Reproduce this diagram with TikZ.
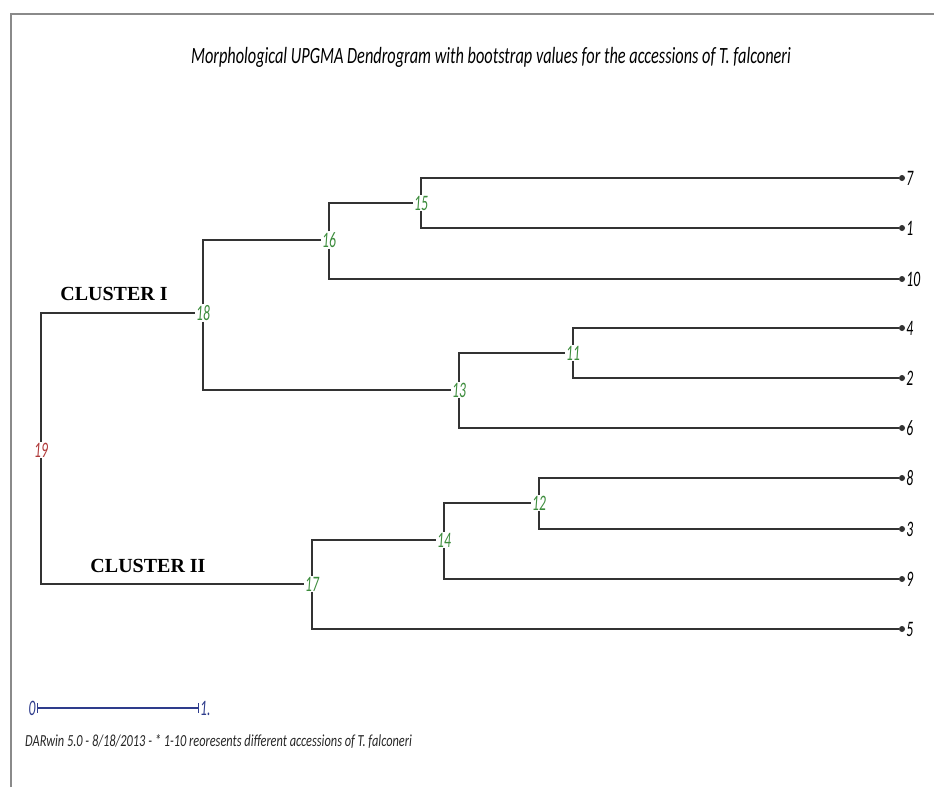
\documentclass[tikz,border=0pt]{standalone}
\usepackage{graphicx}
\usepackage{fontspec}
\setmainfont{Carlito}
\newfontfamily\clusterfont{Liberation Serif}
\definecolor{branch}{HTML}{333333}
\definecolor{framegray}{HTML}{8A8A8A}
\definecolor{nodegreen}{HTML}{3C8C3C}
\definecolor{rootred}{HTML}{B03A3A}
\definecolor{scaleblue}{HTML}{2E3C8C}
\newcommand{\numtxt}[1]{\scalebox{0.8}[1.3]{\fontsize{17}{17}\selectfont\itshape #1}}
\begin{document}
\begin{tikzpicture}[x=1pt,y=-1pt,
  br/.style={draw=branch,line width=1.5pt},
  inode/.style={fill=white,inner sep=1pt,text=nodegreen},
  leaf/.style={circle,fill=branch,inner sep=0pt,minimum size=6pt,
     label={[text=black,inner sep=1pt]right:\numtxt{#1}}},
  clus/.style={font=\clusterfont\fontsize{20}{20}\selectfont\bfseries}]
\useasboundingbox (0,0) rectangle (934,787);
% frame
\draw[framegray,line width=2.4pt] (11,787) -- (11,14) -- (934,14);
% title
\node (title) at (491,57) {\scalebox{0.96}[1.37]{\fontsize{17}{17}\selectfont\itshape Morphological UPGMA Dendrogram with bootstrap values for the accessions of T.~falconeri}};
% leaves
\node[leaf=7]  (l7)  at (902,178) {};
\node[leaf=1]  (l1)  at (902,228) {};
\node[leaf=10] (l10) at (902,279) {};
\node[leaf=4]  (l4)  at (902,328) {};
\node[leaf=2]  (l2)  at (902,378) {};
\node[leaf=6]  (l6)  at (902,428) {};
\node[leaf=8]  (l8)  at (902,478) {};
\node[leaf=3]  (l3)  at (902,529) {};
\node[leaf=9]  (l9)  at (902,579) {};
\node[leaf=5]  (l5)  at (902,629) {};
% internal nodes
\node[inode] (n15) at (421,203) {\numtxt{15}};
\node[inode] (n16) at (329,240) {\numtxt{16}};
\node[inode] (n11) at (573,353) {\numtxt{11}};
\node[inode] (n13) at (459,390) {\numtxt{13}};
\node[inode] (n18) at (203,313) {\numtxt{18}};
\node[inode] (n12) at (539,503) {\numtxt{12}};
\node[inode] (n14) at (444,540) {\numtxt{14}};
\node[inode] (n17) at (312,584) {\numtxt{17}};
\node[inode,text=rootred] (n19) at (41,450) {\numtxt{19}};
% branches
\draw[br] (n15) |- (l7);  \draw[br] (n15) |- (l1);
\draw[br] (n16) |- (n15); \draw[br] (n16) |- (l10);
\draw[br] (n11) |- (l4);  \draw[br] (n11) |- (l2);
\draw[br] (n13) |- (n11); \draw[br] (n13) |- (l6);
\draw[br] (n18) |- (n16); \draw[br] (n18) |- (n13);
\draw[br] (n12) |- (l8);  \draw[br] (n12) |- (l3);
\draw[br] (n14) |- (n12); \draw[br] (n14) |- (l9);
\draw[br] (n17) |- (n14); \draw[br] (n17) |- (l5);
\draw[br] (n19) |- (n18); \draw[br] (n19) |- (n17);
% cluster labels
\node[clus] (c1) at (114,294) {CLUSTER I};
\node[clus] (c2) at (148,566) {CLUSTER II};
% scale bar
\node[text=scaleblue,inner sep=1pt] (s0) at (32,708) {\numtxt{0}};
\node[text=scaleblue,inner sep=1pt,anchor=west] (s1) at (199,708) {\numtxt{1.}};
\draw[scaleblue,line width=1.3pt,|-|] (s0.east) -- (s1.west);
% footer
\node[anchor=west,text=black!85,inner sep=0pt] (foot) at (25,741) {\scalebox{0.95}[1.3]{\fontsize{13}{13}\selectfont\itshape DARwin 5.0 - 8/18/2013 - * 1-10 reoresents different accessions of T.~falconeri}};
\end{tikzpicture}
\end{document}
